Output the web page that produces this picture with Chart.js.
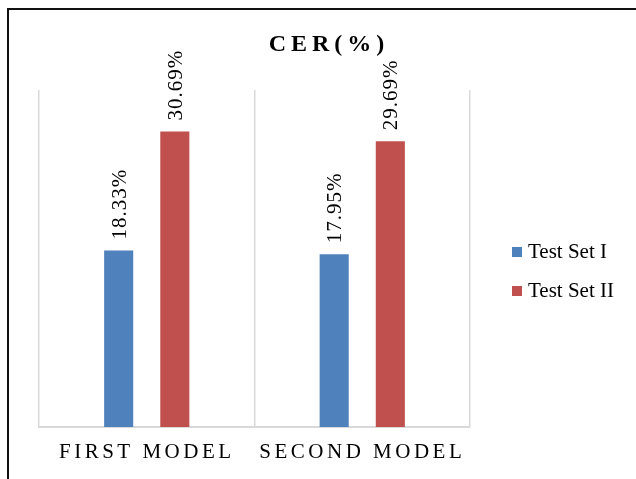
<!DOCTYPE html>
<html>
<head>
<meta charset="utf-8">
<script src="https://cdn.jsdelivr.net/npm/chart.js@4/dist/chart.umd.min.js"></script>
<style>
  html, body { margin: 0; padding: 0; background: #fff; }
  canvas { display: block; }
</style>
</head>
<body>
<canvas id="cer" width="636" height="479"></canvas>
<script>
// Character error rate per model on the two test sets
const chartTitle = 'CER(%)';
const categories = ['FIRST MODEL', 'SECOND MODEL'];
const seriesNames = ['Test Set I', 'Test Set II'];
const testSet1 = [18.33, 17.95];
const testSet2 = [30.69, 29.69];
const seriesColors = ['#4F81BD', '#C0504D'];
const yMax = 35;

const SERIF = '"Liberation Serif", "Times New Roman", serif';

// Outer frame, plus letter spacing for the category labels
const framePlugin = {
  id: 'frame',
  beforeDraw(chart) {
    const ctx = chart.ctx;
    ctx.save();
    ctx.strokeStyle = '#111';
    ctx.lineWidth = 2;
    ctx.beginPath();
    ctx.moveTo(8, chart.height);
    ctx.lineTo(8, 9);
    ctx.lineTo(chart.width, 9);
    ctx.stroke();
    ctx.restore();
    ctx.letterSpacing = '3.5px';
  },
  beforeDatasetsDraw(chart) {
    chart.ctx.letterSpacing = '0px';
  }
};

// Rotated value labels above each bar
const valueLabels = {
  id: 'valueLabels',
  afterDatasetsDraw(chart) {
    const ctx = chart.ctx;
    chart.data.datasets.forEach((ds, i) => {
      chart.getDatasetMeta(i).data.forEach((bar, j) => {
        const text = ds.data[j].toFixed(2) + '%';
        ctx.save();
        ctx.translate(bar.x + 7, bar.y - 11);
        ctx.rotate(-Math.PI / 2);
        ctx.font = '21px ' + SERIF;
        ctx.letterSpacing = '1px';
        ctx.fillStyle = '#000';
        ctx.textAlign = 'left';
        ctx.textBaseline = 'alphabetic';
        ctx.fillText(text, 0, 0);
        ctx.restore();
      });
    });
  }
};

// Title and legend on the right
const titleLegend = {
  id: 'titleLegend',
  afterDraw(chart) {
    const ctx = chart.ctx;
    ctx.save();
    ctx.font = 'bold 24px ' + SERIF;
    ctx.letterSpacing = '5px';
    ctx.fillStyle = '#000';
    ctx.textAlign = 'center';
    ctx.textBaseline = 'middle';
    ctx.fillText(chartTitle, 329, 45);
    ctx.restore();

    ctx.save();
    ctx.font = '21px ' + SERIF;
    ctx.textAlign = 'left';
    ctx.textBaseline = 'middle';
    chart.data.datasets.forEach((ds, i) => {
      const y = 252 + i * 39;
      ctx.fillStyle = ds.backgroundColor;
      ctx.fillRect(512, y - 5, 10, 10);
      ctx.fillStyle = '#000';
      ctx.fillText(ds.label, 528, y);
    });
    ctx.restore();
  }
};

new Chart(document.getElementById('cer'), {
  type: 'bar',
  data: {
    labels: categories,
    datasets: [
      { label: seriesNames[0], data: testSet1, backgroundColor: seriesColors[0] },
      { label: seriesNames[1], data: testSet2, backgroundColor: seriesColors[1] }
    ]
  },
  options: {
    responsive: false,
    animation: false,
    layout: { padding: { left: 39, right: 166, top: 90, bottom: 0 } },
    datasets: {
      bar: { categoryPercentage: 0.521, barPercentage: 0.518 }
    },
    plugins: {
      legend: { display: false },
      title: { display: false },
      tooltip: { enabled: false }
    },
    scales: {
      x: {
        afterFit(scale) { scale.height = 52; },
        grid: { color: '#d9d9d9', lineWidth: 1.5, drawTicks: false, offset: true },
        border: { color: '#d9d9d9', width: 2 },
        ticks: {
          color: '#000',
          padding: 13,
          font: { family: SERIF, size: 21 }
        }
      },
      y: {
        display: false,
        min: 0,
        max: yMax
      }
    }
  },
  plugins: [framePlugin, valueLabels, titleLegend]
});
</script>
</body>
</html>
